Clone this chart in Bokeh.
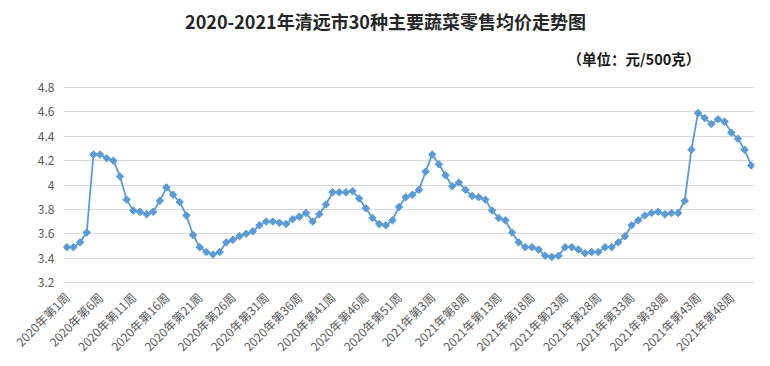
from bokeh.plotting import figure
from bokeh.models import FixedTicker, NumeralTickFormatter, Label, Range1d, ColumnDataSource
from bokeh.embed import file_html
from bokeh.resources import INLINE
import math

# ---- data ----
years = [2020] * 53 + [2021] * 51
weeks = list(range(1, 54)) + list(range(1, 52))
prices_2020 = [3.49, 3.49, 3.53, 3.61, 4.25, 4.25, 4.22, 4.20, 4.07, 3.88,
               3.79, 3.78, 3.76, 3.78, 3.87, 3.98, 3.92, 3.86, 3.75, 3.59,
               3.49, 3.45, 3.43, 3.45, 3.53, 3.55, 3.58, 3.60, 3.62, 3.67,
               3.70, 3.70, 3.69, 3.68, 3.72, 3.74, 3.77, 3.70, 3.76, 3.84,
               3.94, 3.94, 3.94, 3.95, 3.89, 3.81, 3.73, 3.68, 3.67, 3.71,
               3.82, 3.90, 3.92]
prices_2021 = [3.96, 4.11, 4.25, 4.17, 4.08, 3.99, 4.02, 3.96, 3.91, 3.90,
               3.88, 3.79, 3.73, 3.71, 3.61, 3.53, 3.49, 3.49, 3.47, 3.42,
               3.41, 3.42, 3.49, 3.49, 3.47, 3.44, 3.45, 3.45, 3.49, 3.49,
               3.53, 3.58, 3.67, 3.71, 3.75, 3.77, 3.78, 3.76, 3.77, 3.77,
               3.87, 4.29, 4.59, 4.55, 4.50, 4.54, 4.52, 4.43, 4.38, 4.29,
               4.16]
y_ticks = [3.2, 3.4, 3.6, 3.8, 4.0, 4.2, 4.4, 4.6, 4.8]
label_step = 5
title_text = "2020-2021年清远市30种主要蔬菜零售均价走势图"
unit_text = "（单位：元/500克）"

prices = prices_2020 + prices_2021
labels = [f"{y}年第{w}周" for y, w in zip(years, weeks)]
idx = list(range(len(prices)))
src = ColumnDataSource(dict(x=idx, y=prices, label=labels))

FONT = "Noto Sans CJK SC"
BLUE = "#5B9BD5"
GRID = "#D9D9D9"
LBL = "#595959"

# layout (pixels): the value grid spans from GRID_T to GRID_B, the frame reaches the top
FRAME_L, FRAME_W = 63, 691
GRID_T, GRID_B = 87, 282
n = len(prices)
x0, x1 = -0.5, n - 0.5
px_x = (x1 - x0) / FRAME_W
px_y = (y_ticks[-1] - y_ticks[0]) / (GRID_B - GRID_T)
y0 = y_ticks[0]
y1 = y_ticks[-1] + GRID_T * px_y  # blank head room above the top grid line


def sx(px):  # window pixel x -> data x
    return x0 + (px - FRAME_L) * px_x


def sy(py):  # window pixel y -> data y
    return y_ticks[-1] + (GRID_T - py) * px_y


p = figure(frame_width=FRAME_W, frame_height=GRID_B,
           output_backend="svg", toolbar_location=None,
           x_range=Range1d(x0, x1), y_range=Range1d(y0, y1),
           min_border_left=FRAME_L, min_border_right=8, min_border_bottom=76,
           min_border_top=0)

p.add_layout(Label(x=sx(385), y=sy(20), text=title_text, text_align="center",
                   text_baseline="middle", text_font=FONT, text_font_size="18px",
                   text_font_style="bold", text_color="#262626"))
p.add_layout(Label(x=sx(567), y=sy(58), text=unit_text, text_align="left",
                   text_baseline="middle", text_font=FONT, text_font_size="14.5px",
                   text_font_style="bold", text_color="#1a1a1a"))

p.line("x", "y", source=src, line_color=BLUE, line_width=1.8)
p.scatter("x", "y", source=src, marker="square", size=5.3, angle=math.pi / 4,
          fill_color=BLUE, line_color=BLUE)

p.xgrid.grid_line_color = None
p.ygrid.grid_line_color = GRID
p.ygrid.ticker = FixedTicker(ticks=y_ticks)
p.outline_line_color = None

p.yaxis.ticker = FixedTicker(ticks=y_ticks)
p.yaxis.formatter = NumeralTickFormatter(format="0.[0]")
p.yaxis.axis_line_color = None
p.yaxis.major_tick_line_color = None
p.yaxis.minor_tick_line_color = None
p.yaxis.major_label_text_font = FONT
p.yaxis.major_label_text_font_size = "12px"
p.yaxis.major_label_text_color = LBL
p.yaxis.major_label_standoff = 3

xt = idx[::label_step]
p.xaxis.ticker = FixedTicker(ticks=xt)
p.xaxis.major_label_overrides = {i: labels[i] for i in xt}
p.xaxis.major_label_orientation = math.pi / 4
p.xaxis.axis_line_color = GRID
p.xaxis.major_tick_line_color = None
p.xaxis.minor_tick_line_color = None
p.xaxis.major_label_text_font = FONT
p.xaxis.major_label_text_font_size = "12px"
p.xaxis.major_label_text_color = LBL
p.xaxis.major_label_standoff = 6

p.background_fill_color = "white"
p.border_fill_color = "white"

open("out.html", "w").write(file_html(p, INLINE))
